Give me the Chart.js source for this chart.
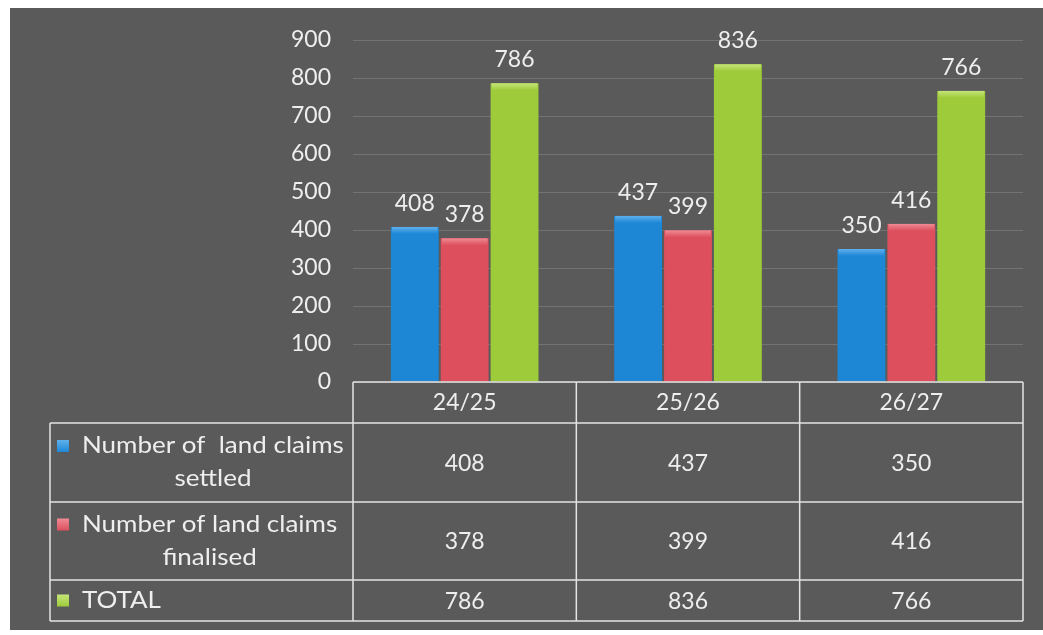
<!DOCTYPE html>
<html>
<head>
<meta charset="utf-8">
<script src="https://cdn.jsdelivr.net/npm/chart.js@4.4.1/dist/chart.umd.min.js"></script>
<style>
  html, body { margin: 0; padding: 0; background: #ffffff; }
  #wrap { position: relative; width: 1043px; height: 635px; }
</style>
</head>
<body>
<div id="wrap"><canvas id="claimsChart" width="1043" height="635"></canvas></div>
<script>
// land claims per financial year
const years = ["24/25", "25/26", "26/27"];
const settled = [408, 437, 350];
const finalised = [378, 399, 416];
const totals = [786, 836, 766];
const seriesLabels = [
  ["Number of  land claims", "settled"],
  ["Number of land claims", "finalised"],
  ["TOTAL"]
];
const seriesColors = ["#1d87d6", "#dd4f5d", "#9dcb3a"];
const seriesTops = ["#5fb0ec", "#f08a94", "#c6e57a"];

const FONT = "Lato, 'Open Sans', sans-serif";
const TEXT = "#eeeeee";
const LINE = "#e4e4e4";

// dark panel behind everything
const panelBg = {
  id: "panelBg",
  beforeDraw(chart) {
    const ctx = chart.ctx;
    ctx.save();
    ctx.fillStyle = "#5a5a5a";
    ctx.fillRect(10, 8, chart.width - 10, 622);
    ctx.restore();
  }
};

// light bevel along the top of each bar, then the value above it
const barValues = {
  id: "barValues",
  afterDatasetsDraw(chart) {
    const ctx = chart.ctx;
    ctx.save();
    chart.data.datasets.forEach((ds, i) => {
      chart.getDatasetMeta(i).data.forEach(bar => {
        const g = ctx.createLinearGradient(0, bar.y, 0, bar.y + 7);
        g.addColorStop(0, seriesTops[i]);
        g.addColorStop(1, seriesColors[i]);
        ctx.fillStyle = g;
        ctx.fillRect(bar.x - bar.width / 2 + 1, bar.y, bar.width - 2, 7);
      });
    });
    ctx.font = "23px " + FONT;
    ctx.fillStyle = TEXT;
    ctx.textAlign = "center";
    ctx.textBaseline = "alphabetic";
    chart.data.datasets.forEach((ds, i) => {
      chart.getDatasetMeta(i).data.forEach((bar, j) => {
        ctx.fillText(String(ds.data[j]), bar.x, bar.y - 16);
      });
    });
    ctx.restore();
  }
};

// wide-ish text like the sheet's Calibri labels
function stretchedText(ctx, text, x, y, align) {
  const sx = 1.13;
  const w = ctx.measureText(text).width * sx;
  let left = x;
  if (align === "center") left = x - w / 2;
  ctx.save();
  ctx.textAlign = "left";
  ctx.translate(left, y);
  ctx.scale(sx, 1);
  ctx.fillText(text, 0, 0);
  ctx.restore();
  return w;
}

// data table with legend keys under the plot
const dataTable = {
  id: "dataTable",
  afterDraw(chart) {
    const ctx = chart.ctx;
    const area = chart.chartArea;
    const band = (area.right - area.left) / years.length;
    const rows = [area.bottom, 423, 502, 580, 621];
    const keyLeft = 50;
    const cols = years.map((_, i) => area.left + band * i).concat(area.right);

    ctx.save();
    ctx.strokeStyle = LINE;
    ctx.lineWidth = 1.5;
    ctx.beginPath();
    // header row only spans the plot columns
    ctx.moveTo(area.left, rows[0]); ctx.lineTo(area.right, rows[0]);
    for (let r = 1; r < rows.length; r++) {
      ctx.moveTo(keyLeft, rows[r]); ctx.lineTo(area.right, rows[r]);
    }
    cols.forEach(x => { ctx.moveTo(x, rows[0]); ctx.lineTo(x, rows[4]); });
    ctx.moveTo(keyLeft, rows[1]); ctx.lineTo(keyLeft, rows[4]);
    ctx.stroke();

    ctx.font = "23px " + FONT;
    ctx.fillStyle = TEXT;
    ctx.textAlign = "center";
    ctx.textBaseline = "middle";
    years.forEach((y, i) => {
      const cx = chart.scales.x.getPixelForValue(i);
      ctx.fillText(y, cx, (rows[0] + rows[1]) / 2);
      chart.data.datasets.forEach((ds, d) => {
        ctx.fillText(String(ds.data[i]), cx, (rows[d + 1] + rows[d + 2]) / 2 + 1);
      });
    });

    // legend keys
    seriesLabels.forEach((lines, d) => {
      const top = rows[d + 1], bottom = rows[d + 2];
      const mid = (top + bottom) / 2;
      const lh = 33;
      const y0 = mid - (lines.length - 1) * lh / 2;
      const textLeft = 82;
      const g = ctx.createLinearGradient(0, y0 - 6, 0, y0 + 6);
      g.addColorStop(0, seriesTops[d]);
      g.addColorStop(1, seriesColors[d]);
      ctx.fillStyle = g;
      ctx.fillRect(57, y0 - 6, 12, 12);
      ctx.fillStyle = TEXT;
      const firstW = stretchedText(ctx, lines[0], textLeft, y0, "left");
      for (let k = 1; k < lines.length; k++) {
        stretchedText(ctx, lines[k], textLeft + firstW / 2, y0 + k * lh, "center");
      }
    });
    ctx.restore();
  }
};

new Chart(document.getElementById("claimsChart"), {
  type: "bar",
  data: {
    labels: years,
    datasets: [
      { label: seriesLabels[0].join(" "), data: settled, backgroundColor: seriesColors[0] },
      { label: seriesLabels[1].join(" "), data: finalised, backgroundColor: seriesColors[1] },
      { label: seriesLabels[2].join(" "), data: totals, backgroundColor: seriesColors[2] }
    ]
  },
  options: {
    responsive: false,
    animation: false,
    datasets: {
      bar: { categoryPercentage: 0.67, barPercentage: 0.96, borderWidth: 0 }
    },
    layout: { padding: { top: 40, right: 20, bottom: 253, left: 0 } },
    plugins: {
      legend: { display: false },
      tooltip: { enabled: false }
    },
    scales: {
      x: { display: false },
      y: {
        min: 0,
        max: 900,
        afterFit(scale) { scale.width = 353; },
        border: { display: false },
        grid: { color: "rgba(175,175,175,0.3)", lineWidth: 1, drawTicks: false },
        ticks: {
          stepSize: 100,
          padding: 22,
          color: TEXT,
          font: { family: FONT, size: 23 }
        }
      }
    }
  },
  plugins: [panelBg, barValues, dataTable]
});
</script>
</body>
</html>
